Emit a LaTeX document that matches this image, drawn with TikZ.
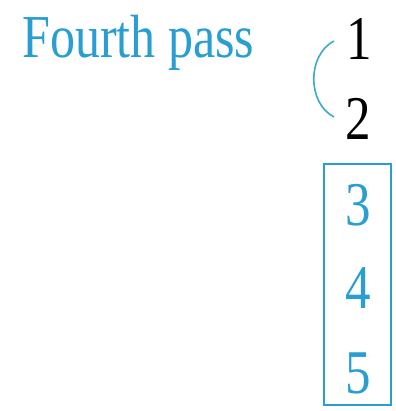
\documentclass[tikz,border=0pt]{standalone}
\usepackage{fontspec}
\setmainfont{Liberation Serif}
\definecolor{passblue}{RGB}{40,158,210}
\definecolor{arcblue}{RGB}{60,170,200}
\newcommand{\tallt}[1]{\scalebox{1}[1.22]{#1}}
\begin{document}
\begin{tikzpicture}[x=1pt,y=-1pt,
  lbl/.style={inner sep=0pt,anchor=base west,font=\fontsize{50}{50}\selectfont},
  num/.style={inner sep=0pt,anchor=base,font=\fontsize{51}{51}\selectfont},
  framebox/.style={draw=passblue,line width=2pt}]
\useasboundingbox (0,0) rectangle (395,411);
\node[lbl,text=passblue] (title) at (22,58) {\tallt{Fourth pass}};
\node[num] (n1) at (359,60) {\tallt{1}};
\node[num] (n2) at (358,140) {\tallt{2}};
\node[num,text=passblue] (n3) at (358,225) {\tallt{3}};
\node[num,text=passblue] (n4) at (358,308) {\tallt{4}};
\node[num,text=passblue] (n5) at (358,393) {\tallt{5}};
\draw[framebox] (324,164) rectangle (391,405);
\coordinate (a1) at (334,41);
\coordinate (a2) at (334,117);
\draw[arcblue,line width=1.6pt] (a1) .. controls (307,55) and (307,103) .. (a2);
\end{tikzpicture}
\end{document}
